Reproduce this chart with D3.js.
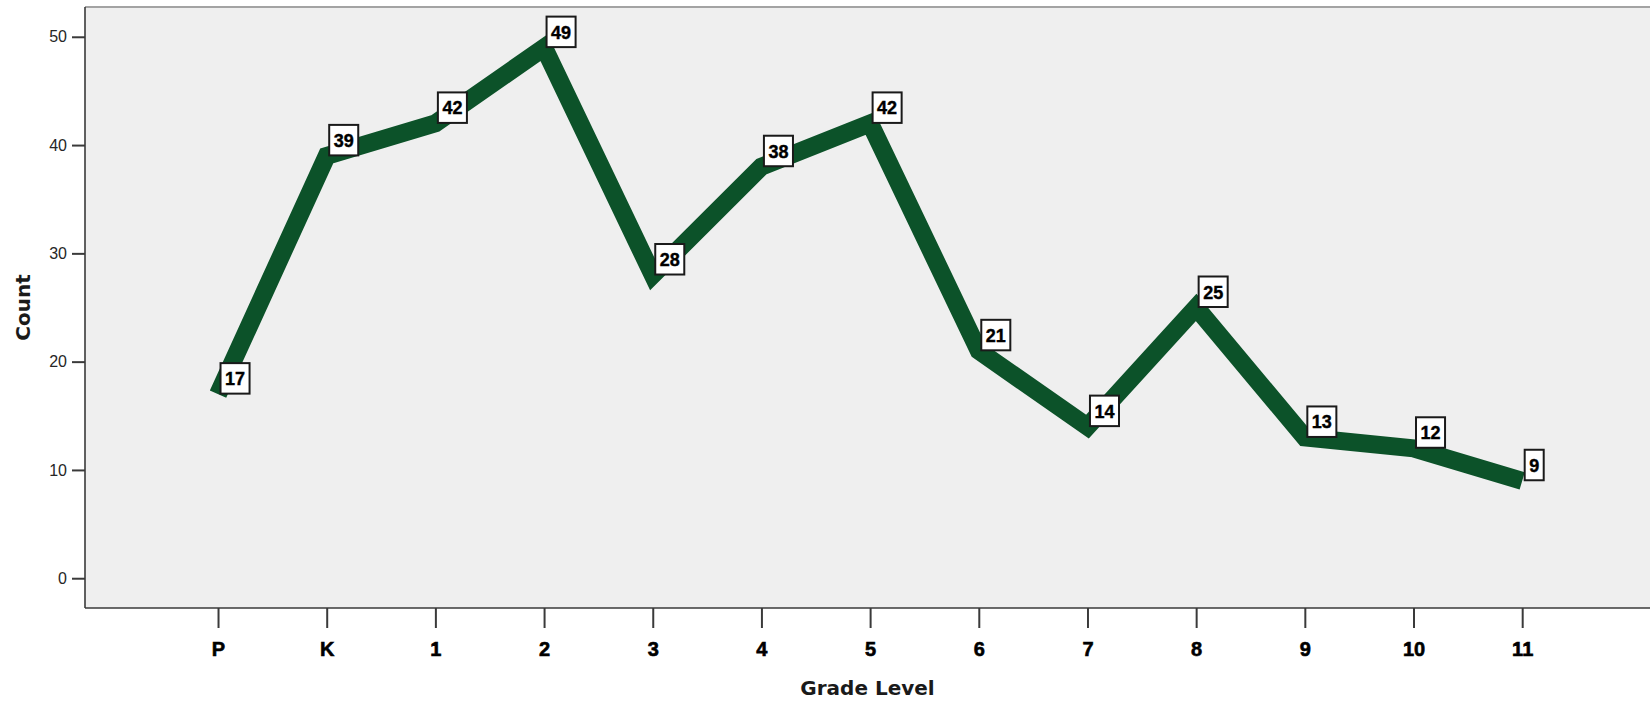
<!DOCTYPE html>
<html>
<head>
<meta charset="utf-8">
<script src="https://cdn.jsdelivr.net/npm/d3@7"></script>
<style>
  html, body { margin: 0; padding: 0; background: #ffffff; }
  svg { display: block; }
</style>
</head>
<body>
<svg id="chart" width="1650" height="702"></svg>
<script>
// Enrollment count by grade level
const grades = ["P", "K", "1", "2", "3", "4", "5", "6", "7", "8", "9", "10", "11"];
const counts = [17, 39, 42, 49, 28, 38, 42, 21, 14, 25, 13, 12, 9];
const yTicks = [0, 10, 20, 30, 40, 50];
const xTitle = "Grade Level";
const yTitle = "Count";

const W = 1650, H = 702;
const plot = { left: 85, top: 7, right: 1650, bottom: 608 };

const svg = d3.select("#chart");

const x = d3.scalePoint()
  .domain(grades)
  .range([plot.left, plot.right])
  .padding(1.2)
  .align(0.51);

const y = d3.scaleLinear()
  .domain([-2.75, 52.75])
  .range([plot.bottom, plot.top]);

// plot background
svg.append("rect")
  .attr("x", plot.left).attr("y", plot.top)
  .attr("width", plot.right - plot.left)
  .attr("height", plot.bottom - plot.top)
  .attr("fill", "#efefef");

// top frame edge
svg.append("line")
  .attr("x1", plot.left).attr("x2", plot.right)
  .attr("y1", plot.top).attr("y2", plot.top)
  .attr("stroke", "#a3a3a3").attr("stroke-width", 2);

// y axis
const yAxis = svg.append("g")
  .attr("transform", `translate(${plot.left},0)`)
  .call(d3.axisLeft(y).tickValues(yTicks).tickSize(13).tickPadding(5).tickSizeOuter(0));
yAxis.select(".domain").attr("stroke", "#3a3a3a").attr("stroke-width", 1.6)
  .attr("d", `M0,${plot.top}V${plot.bottom}`);
yAxis.selectAll(".tick line").attr("stroke", "#3a3a3a").attr("stroke-width", 2);
yAxis.selectAll(".tick text")
  .attr("font-family", "'Liberation Sans', Arial, sans-serif")
  .attr("font-size", 16)
  .attr("fill", "#262626");

// x axis
const xAxis = svg.append("g")
  .attr("transform", `translate(0,${plot.bottom})`)
  .call(d3.axisBottom(x).tickSize(20).tickPadding(14).tickSizeOuter(0));
xAxis.select(".domain").attr("stroke", "#3a3a3a").attr("stroke-width", 1.6)
  .attr("d", `M${plot.left},0H${plot.right}`);
xAxis.selectAll(".tick line").attr("stroke", "#3a3a3a").attr("stroke-width", 2);
xAxis.selectAll(".tick text")
  .attr("font-family", "'Liberation Sans', Arial, sans-serif")
  .attr("font-weight", "bold")
  .attr("font-size", 20)
  .attr("fill", "#000")
  .attr("stroke", "#000").attr("stroke-width", 0.6);

// axis titles
svg.append("text")
  .attr("x", (plot.left + plot.right) / 2)
  .attr("y", 695)
  .attr("text-anchor", "middle")
  .attr("font-family", "'DejaVu Sans', Verdana, sans-serif")
  .attr("font-weight", "bold")
  .attr("font-size", 20)
  .attr("fill", "#1a1a1a")
  .text(xTitle);

svg.append("text")
  .attr("transform", `translate(30,${(plot.top + plot.bottom) / 2}) rotate(-90)`)
  .attr("text-anchor", "middle")
  .attr("font-family", "'DejaVu Sans', Verdana, sans-serif")
  .attr("font-weight", "bold")
  .attr("font-size", 20)
  .attr("fill", "#1a1a1a")
  .text(yTitle);

// data line
const data = grades.map((g, i) => ({ grade: g, count: counts[i] }));
const line = d3.line()
  .x(d => x(d.grade))
  .y(d => y(d.count));

svg.append("path")
  .datum(data)
  .attr("d", line)
  .attr("fill", "none")
  .attr("stroke", "#0c5229")
  .attr("stroke-width", 18)
  .attr("stroke-linejoin", "miter")
  .attr("stroke-linecap", "butt");

// value labels
const labels = svg.append("g").selectAll("g")
  .data(data)
  .join("g")
  .attr("transform", d => `translate(${x(d.grade) + 2},${y(d.count)})`);

labels.append("text")
  .attr("font-family", "'Liberation Sans', Arial, sans-serif")
  .attr("font-weight", "bold")
  .attr("font-size", 18)
  .attr("fill", "#000")
  .attr("stroke", "#000").attr("stroke-width", 0.4)
  .attr("x", 5)
  .attr("y", -9)
  .text(d => d.count)
  .each(function () {
    const bb = this.getBBox();
    d3.select(this.parentNode).insert("rect", "text")
      .attr("x", 0.5)
      .attr("y", -31)
      .attr("width", bb.width + 9)
      .attr("height", 30.5)
      .attr("fill", "#ffffff")
      .attr("stroke", "#1a1a1a")
      .attr("stroke-width", 2);
  });
</script>
</body>
</html>
